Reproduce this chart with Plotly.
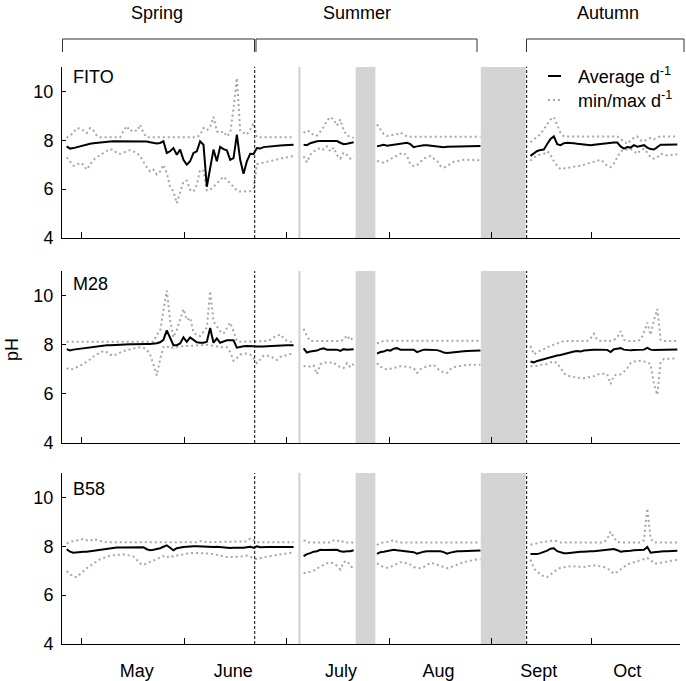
import plotly.graph_objects as go

# ---------------- DATA ----------------
# sampling days (day number); data gaps fall inside the shaded periods
segment_days = [list(range(116, 185)), list(range(187, 203)), list(range(209, 241)), list(range(255, 300))]

month_names = ["May", "June", "July", "Aug", "Sept", "Oct"]
month_label_days = [137.0, 165.9, 198.2, 227.4, 257.5, 284.0]
month_start_days = [120.5, 151.2, 181.9, 212.6, 243.2, 273.4]

season_names = ["Spring", "Summer", "Autumn"]
season_boundaries = [172.35, 253.85]
no_data_periods = [(185.4, 186.1), (202.6, 208.5), (240.1, 253.55)]

stations = ["FITO", "M28", "B58"]

fito_avg = [
    7.75, 7.66, 7.68, 7.72, 7.76, 7.80, 7.84, 7.86, 7.88, 7.90,
    7.92, 7.93, 7.94, 7.95, 7.96, 7.96, 7.96, 7.96, 7.96, 7.96,
    7.96, 7.96, 7.96, 7.95, 7.95, 7.92, 7.90, 7.87, 7.89, 7.96,
    7.48, 7.55, 7.68, 7.41, 7.62, 7.20, 7.00, 7.14, 7.48, 7.55,
    7.96, 7.82, 6.10, 6.80, 7.62, 7.14, 7.73, 7.64, 7.59, 7.20,
    7.27, 8.23, 7.20, 6.63, 7.14, 7.45, 7.44, 7.68, 7.66, 7.72,
    7.74, 7.76, 7.77, 7.78, 7.79, 7.80, 7.81, 7.82, 7.82,
    7.82, 7.80, 7.88, 7.93, 7.96, 7.97, 7.97, 7.97, 7.98, 7.98, 7.97, 7.90, 7.84, 7.86, 7.90, 7.92,
    7.75, 7.80, 7.82, 7.78, 7.80, 7.84, 7.86, 7.88, 7.90, 7.90,
    7.84, 7.72, 7.75, 7.78, 7.80, 7.80, 7.78, 7.76, 7.74, 7.72,
    7.72, 7.74, 7.74, 7.75, 7.75, 7.76, 7.76, 7.77, 7.77, 7.77, 7.77, 7.77,
    7.36, 7.46, 7.56, 7.60, 7.62, 7.85, 8.05, 8.16, 7.84, 7.80,
    7.88, 7.90, 7.90, 7.88, 7.86, 7.84, 7.82, 7.80, 7.80, 7.82,
    7.84, 7.86, 7.88, 7.90, 7.90, 7.91, 7.91, 7.75, 7.66, 7.72,
    7.70, 7.80, 7.74, 7.78, 7.80, 7.70, 7.64, 7.62, 7.72, 7.82,
    7.82, 7.82, 7.83, 7.83, 7.83,
]
fito_min = [
    7.30, 7.14, 6.96, 6.99, 7.08, 7.00, 6.80, 7.00, 7.20, 7.30,
    7.40, 7.48, 7.56, 7.64, 7.60, 7.48, 7.44, 7.48, 7.55, 7.60,
    7.55, 7.48, 7.35, 7.10, 6.90, 6.72, 6.80, 6.60, 6.72, 7.00,
    6.66, 6.10, 5.90, 5.42, 5.90, 6.31, 6.35, 5.97, 5.90, 6.18,
    6.80, 6.75, 5.95, 5.97, 6.10, 6.24, 6.38, 6.51, 6.38, 6.24,
    6.10, 5.95, 5.90, 5.90, 5.90, 5.92, 6.00, 7.02, 7.06, 7.10,
    7.12, 7.15, 7.18, 7.22, 7.25, 7.28, 7.30, 7.33, 7.36,
    7.35, 7.10, 7.40, 7.55, 7.60, 7.70, 7.62, 7.75, 7.55, 7.70, 7.40, 7.25, 7.50, 7.40, 7.25, 7.35,
    7.15, 7.10, 7.08, 7.15, 7.22, 7.30, 7.38, 7.45, 7.48, 7.35,
    7.00, 6.95, 6.98, 7.10, 7.25, 7.30, 7.36, 7.25, 7.15, 6.95,
    6.88, 6.95, 7.05, 7.12, 7.15, 7.18, 7.20, 7.20, 7.20, 7.18, 7.18, 7.18,
    7.16, 7.30, 7.38, 7.42, 7.45, 7.55, 7.40, 7.15, 6.95, 6.82,
    6.85, 6.88, 6.90, 6.92, 6.94, 6.96, 7.00, 7.05, 7.10, 7.15,
    7.18, 7.20, 7.10, 6.95, 6.90, 7.05, 7.30, 7.55, 7.60, 7.62,
    7.65, 7.55, 7.45, 7.60, 7.65, 7.50, 7.30, 7.25, 7.30, 7.45,
    7.40, 7.38, 7.40, 7.42, 7.43,
]
fito_max = [
    8.10, 8.20, 8.30, 8.50, 8.48, 8.40, 8.30, 8.50, 8.40, 8.20,
    8.12, 8.12, 8.12, 8.12, 8.12, 8.12, 8.12, 8.37, 8.58, 8.37,
    8.44, 8.37, 8.64, 8.30, 8.12, 8.12, 8.12, 8.12, 8.12, 8.12,
    8.12, 8.12, 8.12, 8.12, 8.12, 8.12, 8.12, 8.12, 8.12, 8.12,
    8.23, 8.50, 8.40, 8.55, 8.96, 8.37, 8.30, 8.37, 8.16, 8.30,
    9.30, 10.55, 8.40, 8.30, 8.23, 8.44, 8.70, 8.12, 8.12, 8.12,
    8.12, 8.12, 8.12, 8.12, 8.12, 8.12, 8.12, 8.12, 8.12,
    8.30, 8.40, 8.35, 8.20, 8.20, 8.35, 8.55, 8.80, 8.95, 8.85, 8.60, 8.85, 8.40, 8.20, 8.15, 8.10,
    8.65, 8.45, 8.25, 8.18, 8.20, 8.22, 8.25, 8.32, 8.22, 8.15,
    8.14, 8.14, 8.14, 8.14, 8.14, 8.14, 8.14, 8.14, 8.14, 8.14,
    8.14, 8.14, 8.14, 8.14, 8.14, 8.14, 8.14, 8.14, 8.14, 8.14, 8.14, 8.14,
    7.92, 8.05, 8.15, 8.25, 8.45, 8.67, 8.85, 8.95, 8.60, 8.30,
    8.16, 8.16, 8.16, 8.16, 8.16, 8.16, 8.16, 8.16, 8.16, 8.16,
    8.16, 8.16, 8.16, 8.16, 8.16, 8.16, 8.16, 8.05, 7.95, 7.85,
    8.00, 8.10, 8.16, 8.00, 7.95, 8.05, 8.10, 8.05, 8.12, 8.16,
    8.16, 8.16, 8.16, 8.16, 8.16,
]

m28_avg = [
    7.82, 7.77, 7.80, 7.82, 7.84, 7.86, 7.86, 7.88, 7.90, 7.92,
    7.94, 7.96, 7.98, 7.98, 7.99, 8.00, 8.00, 8.00, 8.02, 8.02,
    8.02, 8.03, 8.03, 8.03, 8.03, 8.03, 8.04, 8.06, 8.10, 8.20,
    8.58, 8.25, 7.98, 7.98, 8.05, 8.30, 8.12, 8.30, 8.18, 8.10,
    8.08, 8.08, 8.12, 8.68, 8.08, 8.26, 8.08, 8.14, 8.18, 8.18,
    8.18, 7.88, 7.92, 7.94, 7.95, 7.96, 7.94, 7.93, 7.92, 7.93,
    7.94, 7.95, 7.96, 7.96, 7.97, 7.97, 7.98, 7.98, 7.98,
    7.85, 7.68, 7.72, 7.74, 7.76, 7.82, 7.85, 7.80, 7.80, 7.80, 7.80, 7.75, 7.82, 7.80, 7.82, 7.82,
    7.64, 7.70, 7.72, 7.78, 7.76, 7.84, 7.86, 7.80, 7.80, 7.80,
    7.80, 7.80, 7.70, 7.76, 7.80, 7.80, 7.80, 7.80, 7.78, 7.74,
    7.68, 7.66, 7.68, 7.70, 7.72, 7.73, 7.73, 7.74, 7.74, 7.75, 7.76, 7.76,
    7.32, 7.28, 7.34, 7.38, 7.42, 7.45, 7.50, 7.52, 7.56, 7.58,
    7.62, 7.66, 7.70, 7.72, 7.74, 7.72, 7.76, 7.78, 7.80, 7.80,
    7.80, 7.80, 7.80, 7.79, 7.70, 7.82, 7.84, 7.86, 7.80, 7.78,
    7.77, 7.78, 7.78, 7.78, 7.80, 7.87, 7.80, 7.78, 7.78, 7.78,
    7.79, 7.80, 7.80, 7.81, 7.81,
]
m28_min = [
    7.05, 6.98, 7.02, 7.10, 7.15, 7.22, 7.30, 7.40, 7.52, 7.60,
    7.70, 7.75, 7.70, 7.60, 7.55, 7.62, 7.68, 7.74, 7.78, 7.82,
    7.85, 7.88, 7.90, 7.88, 7.80, 7.60, 7.20, 6.75, 7.40, 7.90,
    7.95, 7.85, 7.90, 7.92, 7.92, 7.95, 7.95, 7.95, 7.96, 7.96,
    7.98, 8.00, 8.00, 7.98, 7.95, 7.92, 7.90, 7.90, 7.90, 7.70,
    7.35, 7.45, 7.60, 7.62, 7.65, 7.60, 7.45, 7.25, 7.40, 7.55,
    7.55, 7.55, 7.45, 7.38, 7.50, 7.55, 7.60, 7.62, 7.62,
    7.12, 7.15, 7.10, 7.15, 6.80, 7.20, 7.28, 7.28, 7.26, 7.28, 7.15, 7.10, 7.05, 7.25, 7.08, 7.22,
    7.25, 7.10, 7.05, 6.98, 7.02, 7.05, 7.10, 7.12, 7.12, 7.10,
    7.08, 7.05, 6.85, 7.00, 7.08, 7.12, 7.15, 7.18, 7.05, 6.92,
    6.88, 6.85, 7.00, 7.08, 7.12, 7.15, 7.18, 7.18, 7.18, 7.18, 7.18, 7.18,
    7.12, 7.12, 7.14, 7.18, 7.20, 7.22, 7.28, 7.32, 7.25, 7.05,
    6.85, 6.74, 6.72, 6.68, 6.65, 6.64, 6.64, 6.66, 6.68, 6.72,
    6.78, 6.82, 6.82, 6.80, 6.40, 6.75, 6.78, 6.80, 6.90, 7.05,
    7.25, 7.32, 7.32, 7.35, 7.32, 7.30, 7.20, 6.40, 5.96, 7.30,
    7.42, 7.42, 7.44, 7.45, 7.45,
]
m28_max = [
    8.12, 8.12, 8.12, 8.12, 8.12, 8.12, 8.12, 8.12, 8.12, 8.12,
    8.12, 8.12, 8.12, 8.12, 8.12, 8.12, 8.12, 8.12, 8.12, 8.12,
    8.12, 8.12, 8.12, 8.12, 8.12, 8.12, 8.12, 8.40, 8.55, 9.40,
    10.20, 9.00, 8.30, 8.60, 9.00, 9.45, 9.00, 9.10, 8.50, 8.40,
    8.35, 8.55, 8.70, 10.18, 8.95, 8.75, 8.55, 8.45, 8.70, 8.90,
    8.55, 8.15, 8.12, 8.12, 8.12, 8.12, 8.12, 8.12, 8.12, 8.12,
    8.15, 8.20, 8.30, 8.35, 8.42, 8.28, 8.15, 8.12, 8.12,
    8.65, 8.35, 8.15, 8.15, 8.15, 8.15, 8.15, 8.15, 8.15, 8.15, 8.15, 8.15, 8.20, 8.38, 8.18, 8.32,
    8.05, 8.12, 8.16, 8.16, 8.16, 8.16, 8.16, 8.16, 8.16, 8.16,
    8.16, 8.16, 8.16, 8.16, 8.16, 8.16, 8.16, 8.16, 8.16, 8.16,
    8.16, 8.16, 8.16, 8.16, 8.16, 8.16, 8.16, 8.16, 8.16, 8.16, 8.16, 8.16,
    7.95, 7.60, 7.70, 7.75, 7.82, 7.90, 7.95, 8.00, 8.08, 8.12,
    8.15, 8.15, 8.15, 8.15, 8.15, 8.15, 8.15, 8.15, 8.25, 8.45,
    8.20, 8.15, 8.15, 8.18, 8.15, 8.20, 8.30, 8.55, 8.20, 8.15,
    8.15, 8.15, 8.15, 8.20, 8.50, 8.90, 8.40, 9.00, 9.45, 8.20,
    8.15, 8.15, 8.15, 8.15, 8.15,
]

b58_avg = [
    7.88, 7.78, 7.74, 7.76, 7.77, 7.78, 7.78, 7.80, 7.82, 7.85,
    7.88, 7.90, 7.92, 7.94, 7.96, 7.95, 7.95, 7.95, 7.96, 7.96,
    7.97, 7.97, 7.98, 7.96, 7.88, 7.84, 7.86, 7.88, 7.92, 7.98,
    8.04, 7.94, 7.84, 7.92, 7.96, 7.97, 7.98, 8.00, 8.00, 8.00,
    7.99, 7.98, 7.97, 7.96, 7.97, 7.98, 7.97, 7.96, 7.92, 7.93,
    7.94, 7.94, 7.92, 7.94, 7.96, 7.98, 7.94, 8.00, 7.96, 7.95,
    7.97, 7.97, 7.97, 7.97, 7.97, 7.97, 7.97, 7.97, 7.97,
    7.60, 7.68, 7.72, 7.78, 7.80, 7.86, 7.85, 7.86, 7.86, 7.86, 7.86, 7.80, 7.78, 7.80, 7.80, 7.84,
    7.69, 7.76, 7.78, 7.80, 7.82, 7.86, 7.84, 7.82, 7.80, 7.80,
    7.78, 7.76, 7.70, 7.75, 7.78, 7.80, 7.80, 7.80, 7.82, 7.80,
    7.76, 7.70, 7.74, 7.78, 7.80, 7.80, 7.81, 7.82, 7.82, 7.82, 7.83, 7.83,
    7.68, 7.68, 7.68, 7.72, 7.76, 7.82, 7.90, 7.92, 7.80, 7.75,
    7.72, 7.72, 7.74, 7.75, 7.76, 7.78, 7.78, 7.80, 7.80, 7.80,
    7.82, 7.84, 7.86, 7.86, 7.88, 7.89, 7.84, 7.78, 7.80, 7.80,
    7.82, 7.84, 7.85, 7.86, 7.86, 7.97, 7.74, 7.76, 7.78, 7.79,
    7.80, 7.80, 7.81, 7.82, 7.82,
]
b58_min = [
    6.98, 6.85, 6.75, 6.74, 6.88, 6.98, 7.10, 7.20, 7.30, 7.40,
    7.47, 7.52, 7.58, 7.62, 7.63, 7.65, 7.66, 7.67, 7.65, 7.62,
    7.58, 7.45, 7.30, 7.24, 7.30, 7.38, 7.42, 7.46, 7.55, 7.60,
    7.54, 7.62, 7.58, 7.62, 7.65, 7.68, 7.70, 7.72, 7.73, 7.73,
    7.72, 7.71, 7.70, 7.70, 7.68, 7.65, 7.60, 7.57, 7.56, 7.56,
    7.56, 7.57, 7.58, 7.60, 7.62, 7.58, 7.50, 7.48, 7.52, 7.56,
    7.58, 7.60, 7.62, 7.64, 7.66, 7.70, 7.72, 7.74, 7.75,
    6.90, 6.92, 6.96, 7.00, 7.10, 7.15, 7.25, 7.30, 7.34, 7.30, 7.20, 7.05, 7.35, 7.40, 7.20, 7.05,
    7.30, 7.22, 7.15, 7.12, 7.15, 7.22, 7.28, 7.35, 7.34, 7.30,
    7.25, 7.15, 7.12, 7.10, 7.15, 7.25, 7.32, 7.30, 7.25, 7.18,
    7.12, 7.10, 7.14, 7.20, 7.25, 7.30, 7.35, 7.38, 7.42, 7.44, 7.46, 7.46,
    7.45, 7.10, 6.95, 6.85, 6.76, 6.74, 6.85, 6.95, 7.05, 7.12,
    7.15, 7.18, 7.18, 7.18, 7.16, 7.14, 7.15, 7.18, 7.20, 7.22,
    7.20, 7.18, 7.15, 7.10, 7.00, 6.88, 6.95, 7.05, 7.18, 7.26,
    7.30, 7.35, 7.40, 7.45, 7.50, 7.52, 7.45, 7.30, 7.30, 7.32,
    7.34, 7.36, 7.38, 7.40, 7.45,
]
b58_max = [
    8.12, 8.18, 8.22, 8.24, 8.28, 8.30, 8.25, 8.22, 8.30, 8.25,
    8.20, 8.18, 8.17, 8.17, 8.17, 8.17, 8.17, 8.17, 8.17, 8.17,
    8.17, 8.17, 8.17, 8.17, 8.17, 8.17, 8.17, 8.17, 8.17, 8.17,
    8.17, 8.17, 8.17, 8.17, 8.17, 8.17, 8.17, 8.17, 8.17, 8.17,
    8.22, 8.18, 8.17, 8.17, 8.17, 8.17, 8.17, 8.17, 8.17, 8.17,
    8.17, 8.17, 8.17, 8.17, 8.20, 8.32, 8.25, 8.17, 8.17, 8.17,
    8.17, 8.17, 8.17, 8.17, 8.17, 8.17, 8.17, 8.17, 8.17,
    8.25, 8.18, 8.15, 8.15, 8.15, 8.15, 8.15, 8.15, 8.15, 8.24, 8.20, 8.26, 8.16, 8.15, 8.15, 8.15,
    8.05, 8.14, 8.16, 8.18, 8.20, 8.26, 8.18, 8.16, 8.16, 8.16,
    8.16, 8.16, 8.16, 8.16, 8.16, 8.16, 8.16, 8.16, 8.16, 8.16,
    8.16, 8.16, 8.16, 8.16, 8.16, 8.16, 8.16, 8.16, 8.16, 8.16, 8.16, 8.16,
    8.06, 8.10, 8.14, 8.16, 8.18, 8.20, 8.22, 8.24, 8.20, 8.16,
    8.16, 8.16, 8.16, 8.16, 8.16, 8.16, 8.16, 8.16, 8.16, 8.16,
    8.16, 8.16, 8.16, 8.30, 8.60, 8.35, 8.18, 8.16, 8.16, 8.16,
    8.16, 8.16, 8.16, 8.16, 8.25, 9.55, 8.30, 8.16, 8.16, 8.16,
    8.16, 8.16, 8.16, 8.16, 8.16,
]

station_avg = [fito_avg, m28_avg, b58_avg]
station_min = [fito_min, m28_min, b58_min]
station_max = [fito_max, m28_max, b58_max]


def with_gaps(values):
    xs, ys = [], []
    i = 0
    for seg in segment_days:
        if xs:
            xs.append(None)
            ys.append(None)
        xs.extend(seg)
        ys.extend(values[i:i + len(seg)])
        i += len(seg)
    assert i == len(values), len(values)
    return xs, ys


# ---------------- LAYOUT HELPERS ----------------
W, H = 686, 681
ML, MR, MT, MB = 62, 6, 67, 37
PW, PH = W - ML - MR, H - MT - MB


def px_x(px):
    return (px - ML) / PW


def px_y(py):
    return (H - MB - py) / PH


FONT = "Liberation Sans, Arial, Helvetica, sans-serif"
panel_px = [(67, 238), (271, 443), (473, 644)]
label_offsets = [10, 13, 16]
GRAY_DOT = "#a6a6a6"
SHADE = "#d4d4d4"

fig = go.Figure()
layout_axes = {}
shapes = []
annotations = []

for k, name in enumerate(stations):
    sfx = "" if k == 0 else str(k + 1)
    xa, ya = "x" + sfx, "y" + sfx
    for series in (station_min[k], station_max[k]):
        xs, ys = with_gaps(series)
        fig.add_trace(go.Scatter(x=xs, y=ys, mode="lines", xaxis=xa, yaxis=ya,
                                 line=dict(color=GRAY_DOT, width=2, dash="2px,3px"),
                                 showlegend=False, hoverinfo="skip"))
    xs, ys = with_gaps(station_avg[k])
    fig.add_trace(go.Scatter(x=xs, y=ys, mode="lines", xaxis=xa, yaxis=ya,
                             line=dict(color="black", width=2),
                             showlegend=False, name="Average"))

    top, bot = panel_px[k]
    xaxis_cfg = dict(
        domain=[0, 1], anchor=ya, range=[114.6, 299.8],
        showline=True, linecolor="black", linewidth=1,
        showgrid=False, zeroline=False,
        ticks="",
        tickfont=dict(size=18, color="black", family=FONT),
        minor=dict(tickmode="array", tickvals=month_start_days, ticks="inside",
                   ticklen=6, tickwidth=1, tickcolor="black", showgrid=False),
    )
    if k == 2:
        xaxis_cfg.update(tickmode="array", tickvals=month_label_days, ticktext=month_names,
                         showticklabels=True, ticklabelstandoff=10)
    else:
        xaxis_cfg.update(tickmode="array", tickvals=month_label_days, showticklabels=False)
    layout_axes["xaxis" + sfx] = xaxis_cfg
    layout_axes["yaxis" + sfx] = dict(
        domain=[px_y(bot), px_y(top)], anchor=xa, range=[4, 11],
        showline=True, linecolor="black", linewidth=1,
        showgrid=False, zeroline=False,
        tickmode="array", tickvals=[4, 6, 8, 10],
        ticks="inside", ticklen=4, tickcolor="black",
        tickfont=dict(size=18, color="black", family=FONT),
        ticklabelstandoff=4,
    )
    # no-data shaded periods
    for (a, b) in no_data_periods:
        shapes.append(dict(type="rect", xref=xa, yref=ya + " domain", x0=a, x1=b, y0=0, y1=1,
                           fillcolor=SHADE, line=dict(width=0), layer="below"))
    # season boundaries
    for d in season_boundaries:
        shapes.append(dict(type="line", xref=xa, yref=ya + " domain", x0=d, x1=d, y0=0, y1=1,
                           line=dict(color="black", width=1, dash="3px,2px")))
    # station label
    annotations.append(dict(text=name, xref="paper", yref="paper", x=px_x(71),
                            y=px_y(top + label_offsets[k]),
                            xanchor="left", yanchor="middle", showarrow=False,
                            font=dict(size=18, color="black", family=FONT)))

# season brackets on top
bracket_px = [(62.5, 254.5), (256, 477), (526.5, 684)]
label_px = [157, 357, 608]
y_line, y_tick = px_y(39), px_y(52)
for (a, b), lp, sname in zip(bracket_px, label_px, season_names):
    shapes.append(dict(type="line", xref="paper", yref="paper", x0=px_x(a), x1=px_x(b),
                       y0=y_line, y1=y_line, line=dict(color="#333333", width=1)))
    for xx in (a, b):
        shapes.append(dict(type="line", xref="paper", yref="paper", x0=px_x(xx), x1=px_x(xx),
                           y0=y_line, y1=y_tick, line=dict(color="#333333", width=1)))
    annotations.append(dict(text=sname, xref="paper", yref="paper", x=px_x(lp), y=px_y(13),
                            xanchor="center", yanchor="middle", showarrow=False,
                            font=dict(size=18, color="black", family=FONT)))

# y-axis title
annotations.append(dict(text="pH", xref="paper", yref="paper", x=px_x(12), y=px_y(350),
                        xanchor="center", yanchor="middle", textangle=-90, showarrow=False,
                        font=dict(size=18, color="black", family=FONT)))

# manual legend
legend_items = [("Average d<sup>-1</sup>", dict(color="black", width=2), 76),
                ("min/max d<sup>-1</sup>", dict(color=GRAY_DOT, width=2, dash="2px,3px"), 100)]
for label, style, py in legend_items:
    shapes.append(dict(type="line", xref="paper", yref="paper", x0=px_x(548), x1=px_x(561),
                       y0=px_y(py), y1=px_y(py), line=style))
    annotations.append(dict(text=label, xref="paper", yref="paper", x=px_x(576), y=px_y(py),
                            xanchor="left", yanchor="middle", showarrow=False,
                            font=dict(size=18, color="black", family=FONT)))

fig.update_layout(
    width=W, height=H,
    margin=dict(l=ML, r=MR, t=MT, b=MB, autoexpand=False),
    paper_bgcolor="white", plot_bgcolor="white",
    showlegend=False,
    shapes=shapes, annotations=annotations,
    font=dict(family=FONT, size=18, color="black"),
    **layout_axes,
)

fig.write_html("out.html", config={"displayModeBar": False},
               post_script="document.body.style.margin='0px';document.body.style.overflow='hidden';")
